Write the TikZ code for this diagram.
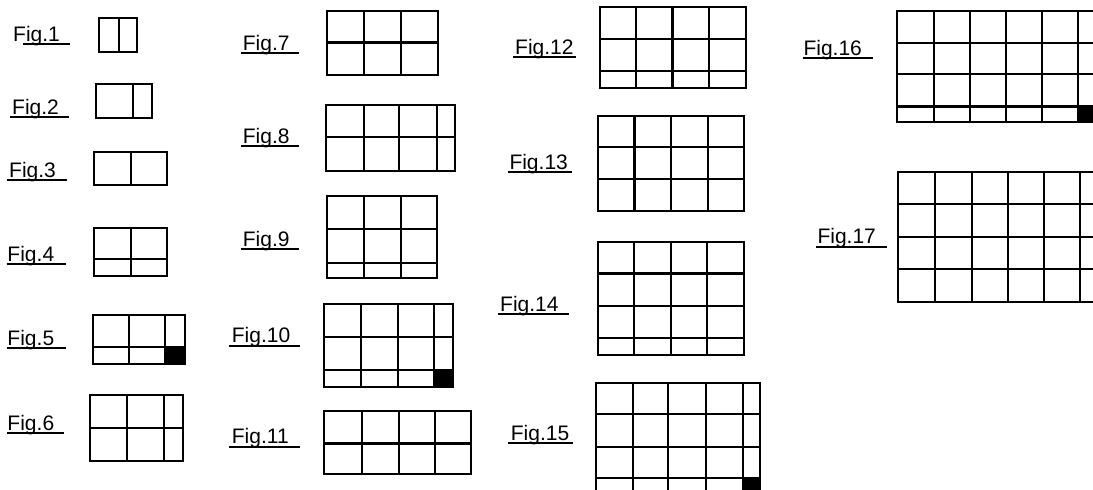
\documentclass[tikz,border=0pt]{standalone}
\usepackage{fontspec}
\setmainfont{Liberation Sans}
\begin{document}
\begin{tikzpicture}[x=1pt,y=-1pt,
  frame/.style={draw=black,line width=2.2pt},
  div/.style={draw=black,line width=1.9pt},
  thickdiv/.style={draw=black,line width=2.7pt},
  cellfill/.style={fill=black},
  lbl/.style={font=\fontsize{21}{21}\selectfont,inner sep=0pt,anchor=base west},
  uline/.style={draw=black,line width=1.8pt}]
\useasboundingbox (0,0) rectangle (1093,490);
\clip (0,0) rectangle (1093,490);
% ---------- labels ----------
\node[lbl] (l1) at (13,41.5) {Fig.1};   \draw[uline] (23,44.3) -- (70,44.3);
\node[lbl] (l2) at (12,114.5) {Fig.2};  \draw[uline] (10,117.3) -- (69,117.3);
\node[lbl] (l3) at (9,177.5) {Fig.3};   \draw[uline] (7.3,180.3) -- (66.7,180.3);
\node[lbl] (l4) at (7.3,261.2) {Fig.4}; \draw[uline] (6.7,264) -- (65.7,264);
\node[lbl] (l5) at (7.3,345.2) {Fig.5}; \draw[uline] (6.7,348) -- (65.7,348);
\node[lbl] (l6) at (7.3,430.5) {Fig.6}; \draw[uline] (6.7,433.3) -- (64.3,433.3);
\node[lbl] (l7) at (242.7,50.5) {Fig.7};   \draw[uline] (240.7,53.3) -- (299.3,53.3);
\node[lbl] (l8) at (242.7,143.2) {Fig.8};  \draw[uline] (240.7,146) -- (299.3,146);
\node[lbl] (l9) at (242.7,246.5) {Fig.9};  \draw[uline] (240.7,249.3) -- (299.3,249.3);
\node[lbl] (l10) at (231.7,342.9) {Fig.10}; \draw[uline] (229.3,345.7) -- (300,345.7);
\node[lbl] (l11) at (231.7,443.9) {Fig.11}; \draw[uline] (229.3,446.7) -- (300,446.7);
\node[lbl] (l12) at (515,54.5) {Fig.12};   \draw[uline] (513.3,57.3) -- (576,57.3);
\node[lbl] (l13) at (509.3,169.5) {Fig.13}; \draw[uline] (508.3,172.3) -- (571.7,172.3);
\node[lbl] (l14) at (500,311.2) {Fig.14};  \draw[uline] (498.3,314) -- (569,314);
\node[lbl] (l15) at (510.7,440.5) {Fig.15}; \draw[uline] (508.3,443.3) -- (572.7,443.3);
\node[lbl] (l16) at (803.3,55.5) {Fig.16}; \draw[uline] (802.7,58.3) -- (873.3,58.3);
\node[lbl] (l17) at (817.3,243.9) {Fig.17}; \draw[uline] (816,246.7) -- (886.7,246.7);
% ---------- Fig.1 ----------
\draw[div] (118.7,17.7) -- (118.7,52);
\draw[frame] (99.3,17.7) rectangle (137.3,52);
% ---------- Fig.2 ----------
\draw[div] (133.3,84.3) -- (133.3,117.7);
\draw[frame] (96,84.3) rectangle (152.3,117.7);
% ---------- Fig.3 ----------
\draw[div] (131.3,152.3) -- (131.3,185.3);
\draw[frame] (93.7,152.3) rectangle (167.3,185.3);
% ---------- Fig.4 ----------
\draw[div] (131.3,227.7) -- (131.3,276);
\draw[thickdiv] (93.7,259) -- (167.3,259);
\draw[frame] (93.7,227.7) rectangle (167.3,276);
% ---------- Fig.5 ----------
\fill[cellfill] (165.3,347.3) rectangle (184.7,363.7);
\foreach \x in {128.7,165.3} \draw[div] (\x,314.7) -- (\x,363.7);
\draw[div] (92.7,347.3) -- (184.7,347.3);
\draw[frame] (92.7,314.7) rectangle (184.7,363.7);
% ---------- Fig.6 ----------
\foreach \x in {127.3,164} \draw[div] (\x,395) -- (\x,460.7);
\draw[div] (90,428.3) -- (182.7,428.3);
\draw[frame] (90,395) rectangle (182.7,460.7);
% ---------- Fig.7 ----------
\foreach \x in {363.7,400.7} \draw[div] (\x,11) -- (\x,75);
\draw[thickdiv] (327.3,42.7) -- (437.7,42.7);
\draw[frame] (327.3,11) rectangle (437.7,75);
% ---------- Fig.8 ----------
\foreach \x in {363.7,399.3,436.7} \draw[div] (\x,105.3) -- (\x,170.7);
\draw[div] (326,137.3) -- (455,137.3);
\draw[frame] (326,105.3) rectangle (455,170.7);
% ---------- Fig.9 ----------
\foreach \x in {363.7,400.7} \draw[div] (\x,196.3) -- (\x,278.3);
\foreach \y in {228.7,263} \draw[div] (327.3,\y) -- (437.3,\y);
\draw[frame] (327.3,196.3) rectangle (437.3,278.3);
% ---------- Fig.10 ----------
\fill[cellfill] (433.7,370.3) rectangle (452.7,387);
\foreach \x in {361.3,398.3,433.7} \draw[div] (\x,304) -- (\x,387);
\foreach \y in {337,370.3} \draw[div] (324,\y) -- (452.7,\y);
\draw[frame] (324,304) rectangle (452.7,387);
% ---------- Fig.11 ----------
\foreach \x in {361.7,398.7,435} \draw[div] (\x,411.3) -- (\x,474.3);
\draw[thickdiv] (324,443.3) -- (470.7,443.3);
\draw[frame] (324,411.3) rectangle (470.7,474.3);
% ---------- Fig.12 ----------
\foreach \x in {636,709} \draw[div] (\x,7.3) -- (\x,87.7);
\draw[thickdiv] (672.7,7.3) -- (672.7,87.7);
\foreach \y in {39,71} \draw[div] (600,\y) -- (745.7,\y);
\draw[frame] (600,7.3) rectangle (745.7,87.7);
% ---------- Fig.13 ----------
\foreach \x in {671,708} \draw[div] (\x,115.7) -- (\x,210.7);
\draw[thickdiv] (634.3,115.7) -- (634.3,210.7);
\draw[div] (598,146.7) -- (743.7,146.7);
\draw[thickdiv] (598,179) -- (743.7,179);
\draw[frame] (598,115.7) rectangle (743.7,210.7);
% ---------- Fig.14 ----------
\foreach \x in {634,671,707.3} \draw[div] (\x,242.3) -- (\x,354.7);
\draw[thickdiv] (597.7,273.3) -- (744,273.3);
\foreach \y in {306,338.3} \draw[div] (597.7,\y) -- (744,\y);
\draw[frame] (597.7,242.3) rectangle (744,354.7);
% ---------- Fig.15 ----------
\fill[cellfill] (742.7,478.3) rectangle (760.3,495);
\foreach \x in {632.7,668.3,705.7,742.7} \draw[div] (\x,383.3) -- (\x,495);
\foreach \y in {414,446.7,478.3} \draw[div] (595.7,\y) -- (760.3,\y);
\draw[frame] (595.7,383.3) rectangle (760.3,495);
% ---------- Fig.16 ----------
\fill[cellfill] (1078.3,106.7) rectangle (1115,122.3);
\foreach \x in {934,970,1005.7,1042.3,1078.3} \draw[div] (\x,11) -- (\x,122.3);
\foreach \y in {42.7,74.3} \draw[div] (897,\y) -- (1115,\y);
\draw[thickdiv] (897,106.7) -- (1115,106.7);
\draw[frame] (897,11) rectangle (1115,122.3);
% ---------- Fig.17 ----------
\foreach \x in {935,971.7,1008.3,1044,1080} \draw[div] (\x,172.3) -- (\x,301.7);
\foreach \y in {204,237.3,269.3} \draw[div] (897.7,\y) -- (1115,\y);
\draw[frame] (897.7,172.3) rectangle (1115,301.7);
\end{tikzpicture}
\end{document}
